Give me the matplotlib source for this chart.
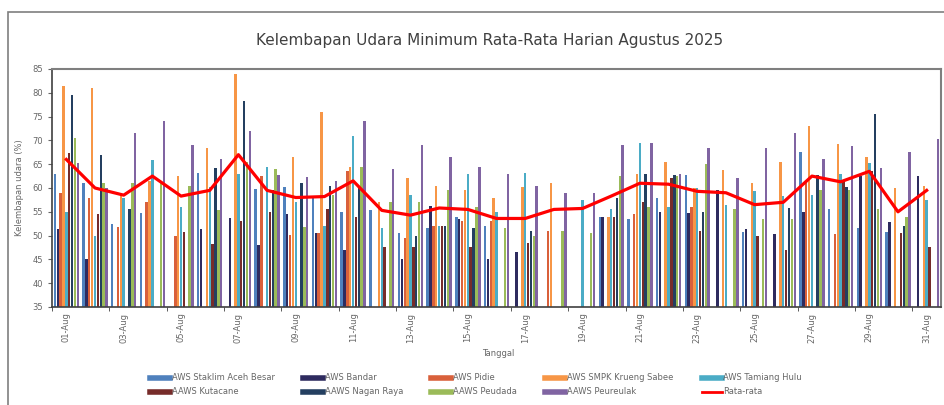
import numpy as np
import matplotlib
matplotlib.use("Agg")
import matplotlib.pyplot as plt
from matplotlib.patches import Rectangle
from matplotlib.lines import Line2D

nan = np.nan

days = list(range(1, 32))
day_labels = ["%02d-Aug" % d for d in days]

staklim = [63, 61, 52.5, 54.8, nan, 63.2, nan, 59.8, 60.3, 58, 55, 55.3, 50.5, 51.5, 54, 52,
           nan, nan, nan, 54, 53.5, 58, 62.8, nan, 50.8, nan, 67.5, 55.5, 51.5, 50.8, nan]
bandar = [51.3, 45, nan, nan, nan, 51.3, 53.8, 48, 54.5, 50.5, 47, nan, 45, 56.3, 53.5, 45,
          46.5, nan, nan, 54, nan, 55, 54.7, 59.5, 51.3, 50.3, 55, nan, 62.5, 52.8, 62.5]
pidie = [59, 58, 51.8, 57, 50, nan, nan, 62.5, 50.2, 50.5, 63.5, nan, 49.5, 52, 53, 53,
         nan, 51, nan, nan, 54.5, nan, 56, nan, nan, nan, 61, 50.3, nan, nan, nan]
smpk = [81.5, 81, 58.5, 61.5, 62.5, 68.5, 84, nan, 66.5, 76, 64.5, 57, 62, 60.5, 59.5, 58,
        60.3, 61, nan, 54, 63, 65.5, 60, 63.8, 61, 65.5, 73, 69.3, 66.5, 60, 60.5]
tamiang = [55, 50, 58, 65.8, 56, 60.3, 63, 64.5, 57, 52, 71, 51.5, 58.5, 52, 63, 55,
           63.2, nan, 57.5, 55.5, 69.5, 56, 60, 56.5, 59.3, 58.3, 58.5, 63, 65.3, nan, 57.5]
kutacane = [67.3, 54.5, nan, nan, 50.7, 48.3, 53, 55, nan, 55.5, 54, 47.5, 47.5, 52, 47.5, nan,
            48.5, nan, nan, 54, 57, 62, 51, nan, 50, 47, nan, 61.5, 63.5, 50.5, 47.5]
nagan = [79.5, 67, 55.5, nan, nan, 64.3, 78.3, 59.5, 61, 60.5, 60.5, nan, 50, 52, 51.5, nan,
         51, nan, nan, 58, 63, 62.8, 55, nan, nan, 55.8, 62.8, 60.3, 75.5, 52, nan]
peudada = [70.5, 61, 61, 61.5, 60.5, 55.3, 65.5, 64, 51.8, 58.5, 64.5, 57, 57, 59.5, 56, 51.5,
           50, 51, 50.5, 62.5, 56, 62.5, 65, 55.5, 53.5, 53.5, 59.5, 59.5, 55.5, 54, nan]
peureulak = [65.3, 60, 71.5, 74, 69, 66, 72, 62.8, 62.3, 61.5, 74, 64, 69, 66.5, 64.5, 63,
             60.5, 59, 59, 69, 69.5, 63, 68.5, 62.2, 68.5, 71.5, 66, 68.8, 64.3, 67.5, 70.3]
rata = [66, 60, 58.5, 62.5, 58.3, 59.5, 67, 59.5, 58, 58.2, 61.5, 55.3, 54.3, 55.8, 55.5, 53.6,
        53.6, 55.5, 55.7, 58.3, 61, 60.8, 59.3, 59, 56.5, 57, 62.5, 61.3, 63.5, 55, 59.5]

stations = [
    ("AWS Staklim Aceh Besar", staklim, "#4F81BD"),
    ("AWS Bandar", bandar, "#2E2B5F"),
    ("AWS Pidie", pidie, "#D9603B"),
    ("AWS SMPK Krueng Sabee", smpk, "#F79646"),
    ("AWS Tamiang Hulu", tamiang, "#4BACC6"),
    ("AAWS Kutacane", kutacane, "#772C2A"),
    ("AAWS Nagan Raya", nagan, "#243F60"),
    ("AAWS Peudada", peudada, "#9BBB59"),
    ("AAWS Peureulak", peureulak, "#8064A2"),
]

fig = plt.figure(figsize=(9.44, 4.05), dpi=100)
ax = fig.add_axes([52 / 944, 98 / 405, 889 / 944, 238 / 405])

# outer chart frame (cropped on right and bottom)
fig.patches.append(Rectangle((8 / 944, -0.1), 1.2, 1.07, transform=fig.transFigure,
                             fill=False, edgecolor="#7f7f7f", linewidth=1.2))

x = np.array(days, dtype=float)
w = 0.1
for k, (name, vals, col) in enumerate(stations):
    ax.bar(x + (k - 4) * w, vals, width=w * 0.85, color=col, label=name)

ax.plot(x, rata, color="#FF0000", linewidth=2.3, label="Rata-rata")

ax.set_xlim(0.5, 31.5)
ax.set_ylim(35, 85)
ax.set_yticks(range(35, 90, 5))
ax.set_xticks(days[::2])
ax.set_xticklabels(day_labels[::2], rotation=90)
ax.set_xticks(np.arange(0.5, 32, 2), minor=True)
ax.tick_params(axis="x", which="major", length=0, labelsize=6, colors="#666666", pad=4)
ax.tick_params(axis="x", which="minor", length=3, color="#404040")
ax.tick_params(axis="y", length=3, labelsize=6, colors="#666666")

for s in ["top", "right"]:
    ax.spines[s].set_color("#7f7f7f")
    ax.spines[s].set_linewidth(1.5)
for s in ["left", "bottom"]:
    ax.spines[s].set_color("#404040")
    ax.spines[s].set_linewidth(1.2)

ax.set_ylabel("Kelembapan udara (%)", fontsize=6, color="#666666", labelpad=6)
fig.text(498 / 944, (405 - 354) / 405, "Tanggal", fontsize=6, color="#666666",
         ha="center", va="center")
fig.text(490 / 944, (405 - 40) / 405, "Kelembapan Udara Minimum Rata-Rata Harian Agustus 2025",
         fontsize=11, color="#404040", ha="center", va="center")

# legend: two rows of five, filled column by column
order = ["AWS Staklim Aceh Besar", "AAWS Kutacane", "AWS Bandar", "AAWS Nagan Raya",
         "AWS Pidie", "AAWS Peudada", "AWS SMPK Krueng Sabee", "AAWS Peureulak",
         "AWS Tamiang Hulu", "Rata-rata"]
leg_handles = []
for n in order:
    if n == "Rata-rata":
        leg_handles.append(Line2D([0], [0], color="#FF0000", linewidth=2))
    else:
        col = [c for nm, v, c in stations if nm == n][0]
        leg_handles.append(Line2D([0], [0], color=col, linewidth=4))
fig.legend(leg_handles, order, ncol=5, loc="center", bbox_to_anchor=(476 / 944, (405 - 385) / 405),
           frameon=False, fontsize=6, labelcolor="#666666", handlelength=2.4,
           handletextpad=0.2, columnspacing=3.4, labelspacing=0.6)

fig.savefig("out.png", dpi=100)
